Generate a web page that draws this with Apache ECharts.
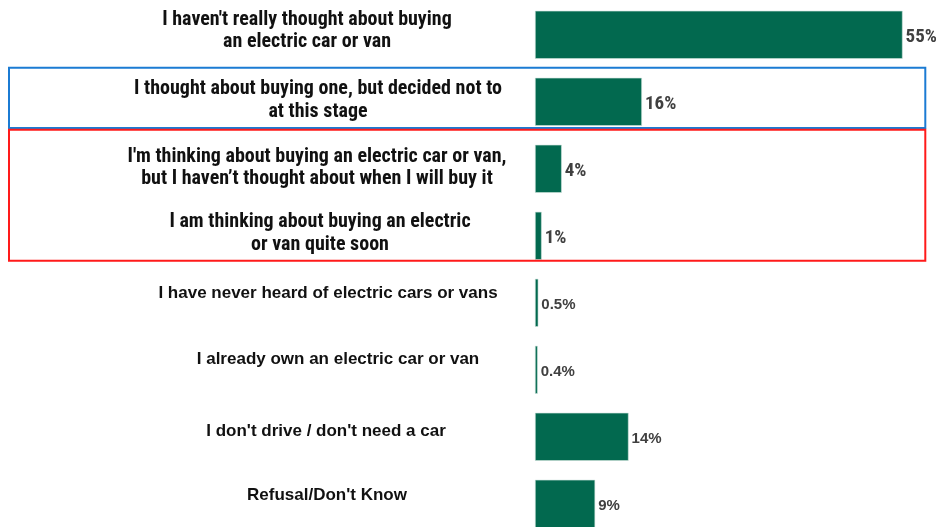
<!DOCTYPE html>
<html>
<head>
<meta charset="utf-8">
<script src="https://cdn.jsdelivr.net/npm/echarts@6/dist/echarts.min.js"></script>
<style>
  html, body { margin: 0; padding: 0; background: #ffffff; }
  #chart { width: 936px; height: 527px; }
</style>
</head>
<body>
<div id="chart"></div>
<script>
// Answer options, top to bottom
const categories = [
  "I haven't really thought about buying\nan electric car or van",
  "I thought about buying one, but decided not to\nat this stage",
  "I'm thinking about buying an electric car or van,\nbut I haven\u2019t thought about when I will buy it",
  "I am thinking about buying an electric\nor van quite soon",
  "I have never heard of electric cars or vans",
  "I already own an electric car or van",
  "I don't drive / don't need a car",
  "Refusal/Don't Know"
];
// Share of respondents (%)
const values = [55, 16, 4, 1, 0.5, 0.4, 14, 9];
const valueLabels = ["55%", "16%", "4%", "1%", "0.5%", "0.4%", "14%", "9%"];

// ---- presentation settings ----
const narrowRows = 4;                                    // first rows use the narrow face
const labelShiftX = [-15, -4, -5, -2, 6, 16, 4, 5];       // nudge of each category label (px)
const labelShiftY = [-4, -1.5, -1, -2.5, -9, -10, -5, -8]; // vertical nudge (px)
// Highlight boxes: first row, last row, colour, space above first centre, space below last centre
const boxes = [
  { from: 1, to: 1, color: '#1B7BD3', above: 34, below: 26.3 },
  { from: 2, to: 3, color: '#FF1A1A', above: 39, below: 25 }
];

const narrowFont = '"Roboto Condensed", "Liberation Sans Narrow", sans-serif';
const wideFont = '"Liberation Sans", Arial, sans-serif';

// One rich style per row so each label can carry its own nudge
const catRich = {};
categories.forEach(function (c, i) {
  const dx = labelShiftX[i], dy = labelShiftY[i];
  const pad = [dy > 0 ? 2 * dy : 0, dx < 0 ? -2 * dx : 0, dy < 0 ? -2 * dy : 0, dx > 0 ? 2 * dx : 0];
  catRich['r' + i] = i < narrowRows
    ? { fontFamily: narrowFont, fontSize: 20, fontWeight: 'bold', color: '#111111', lineHeight: 22.5, padding: pad }
    : { fontFamily: wideFont, fontSize: 17, fontWeight: 'bold', color: '#111111', lineHeight: 22, padding: pad };
});

const chart = echarts.init(document.getElementById('chart'));
chart.setOption({
  animation: false,
  grid: { left: 535, right: 0, top: 1.3, height: 536, outerBoundsMode: 'none', containLabel: false },
  xAxis: { type: 'value', min: 0, max: 60, show: false },
  yAxis: {
    type: 'category',
    inverse: true,
    data: categories,
    axisLine: { show: false },
    axisTick: { show: false },
    axisLabel: {
      margin: 213,
      align: 'center',
      formatter: function (v, i) {
        return v.split('\n').map(function (l) { return '{r' + i + '|' + l + '}'; }).join('\n');
      },
      rich: catRich
    }
  },
  series: [{
    type: 'bar',
    data: values,
    barWidth: 48,
    itemStyle: { color: '#02694F', borderColor: '#cfe3dc', borderWidth: 0.6 },
    label: {
      show: true,
      position: 'right',
      distance: 3,
      formatter: function (p) {
        return (p.dataIndex < narrowRows ? '{n|' : '{w|') + valueLabels[p.dataIndex] + '}';
      },
      rich: {
        n: { fontFamily: narrowFont, fontSize: 19, fontWeight: 'bold', color: '#404040', padding: [5, 0, 0, 0] },
        w: { fontFamily: wideFont, fontSize: 15, fontWeight: 'bold', color: '#404040', padding: [5, 0, 0, 0] }
      }
    }
  }]
});

// Outline boxes around grouped rows, placed from the category axis
function rowCentre(i) { return chart.convertToPixel({ yAxisIndex: 0 }, categories[i]); }
chart.setOption({
  graphic: boxes.map(function (b) {
    const y0 = rowCentre(b.from) - b.above;
    const y1 = rowCentre(b.to) + b.below;
    return {
      type: 'rect',
      shape: { x: 9, y: y0, width: 916.3, height: y1 - y0 },
      style: { fill: 'none', stroke: b.color, lineWidth: 2 },
      z: 10
    };
  })
});
</script>
</body>
</html>
